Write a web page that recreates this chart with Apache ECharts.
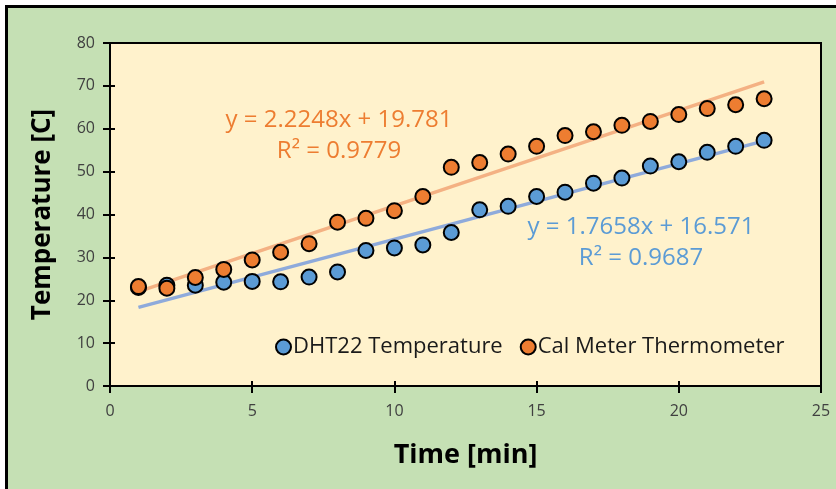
<!DOCTYPE html>
<html>
<head>
<meta charset="utf-8">
<script src="https://cdn.jsdelivr.net/npm/echarts@6/dist/echarts.min.js"></script>
<style>
html,body{margin:0;padding:0;width:836px;height:489px;background:#fff;overflow:hidden;}
#bg{position:absolute;left:5px;top:5px;right:0;bottom:0;background:#c5e0b4;border-top:3px solid #000;border-left:3px solid #000;}
#chart{position:absolute;left:0;top:0;width:836px;height:489px;}
</style>
</head>
<body>
<div id="bg"></div>
<div id="chart"></div>
<script>
// Time [min]
const timeMin = [1,2,3,4,5,6,7,8,9,10,11,12,13,14,15,16,17,18,19,20,21,22,23];
// DHT22 Temperature [C]
const dhtTemp = [23.0,23.5,23.5,24.2,24.4,24.3,25.4,26.6,31.6,32.2,32.9,35.8,41.1,41.9,44.2,45.2,47.3,48.5,51.3,52.3,54.5,55.9,57.3];
// Cal Meter Thermometer [C]
const calTemp = [23.2,22.8,25.3,27.2,29.4,31.2,33.2,38.2,39.1,40.9,44.2,51.0,52.1,54.1,55.9,58.4,59.3,60.8,61.7,63.3,64.7,65.6,67.0];
// linear trendline end points (x, y)
const dhtTrend = [[1,18.34],[23,57.18]];
const calTrend = [[1,22.01],[23,70.95]];
// labels
const dhtEq = ['y = 1.7658x + 16.571','R² = 0.9687'];
const calEq = ['y = 2.2248x + 19.781','R² = 0.9779'];
const xTicks = [0,5,10,15,20,25];
const yTicks = [0,10,20,30,40,50,60,70,80];

const FONT = '"Open Sans", "Liberation Sans", sans-serif';
const chart = echarts.init(document.getElementById('chart'));
const pair = (xs, ys) => xs.map((x,i)=>[x, ys[i]]);
const eqText = (txt, x, y, color) => ({type:'text', z:10, style:{text:txt, x:x, y:y, fill:color, font:'24px '+FONT, textAlign:'center', textVerticalAlign:'middle'}});

const xBase = {type:'value', min:xTicks[0], max:xTicks[xTicks.length-1], interval:5, splitLine:{show:false}};
const yBase = {type:'value', min:yTicks[0], max:yTicks[yTicks.length-1], interval:10, splitLine:{show:false}};

chart.setOption({
  backgroundColor: 'transparent',
  animation: false,
  textStyle: {fontFamily: FONT},
  grid: {left:110, right:15, top:43, bottom:103, show:true, backgroundColor:'#fff2cc', borderColor:'#000', borderWidth:2},
  legend: {
    data:['DHT22 Temperature','Cal Meter Thermometer'],
    left: 270, top: 331, itemGap: 17, itemWidth: 15, itemHeight: 15,
    icon:'circle',
    textStyle:{fontFamily:FONT, fontSize:22, color:'#1a1a1a', padding:[0,0,0,-3]}
  },
  xAxis: [Object.assign({}, xBase, {
    name:'Time [min]', nameLocation:'middle', nameGap:56,
    nameTextStyle:{fontFamily:FONT, fontSize:27, fontWeight:'bold', color:'#000'},
    axisLine:{show:true, lineStyle:{color:'#000', width:2}},
    axisTick:{show:true, length:7, lineStyle:{color:'#000', width:2}},
    axisLabel:{fontFamily:FONT, fontSize:16, color:'#404040', margin:17}
  }), Object.assign({}, xBase, {
    position:'bottom',
    axisLine:{show:false}, axisLabel:{show:false},
    axisTick:{show:true, inside:true, length:5, lineStyle:{color:'#000', width:2}}
  })],
  yAxis: [Object.assign({}, yBase, {
    name:'Temperature [C]', nameLocation:'middle', nameGap:54,
    nameTextStyle:{fontFamily:FONT, fontSize:26, fontWeight:'bold', color:'#000'},
    axisLine:{show:true, lineStyle:{color:'#000', width:2}},
    axisTick:{show:true, length:7, lineStyle:{color:'#000', width:2}},
    axisLabel:{fontFamily:FONT, fontSize:16, color:'#404040', margin:15}
  }), Object.assign({}, yBase, {
    position:'left',
    axisLine:{show:false}, axisLabel:{show:false},
    axisTick:{show:true, inside:true, length:5, lineStyle:{color:'#000', width:2}}
  })],
  series: [
    {name:'DHT22 trend', type:'line', data:dhtTrend, symbol:'none', silent:true,
     lineStyle:{color:'#8eaadb', width:3.5}, z:1},
    {name:'Cal trend', type:'line', data:calTrend, symbol:'none', silent:true,
     lineStyle:{color:'#f4b183', width:3.5}, z:1},
    {name:'DHT22 Temperature', type:'scatter', data:pair(timeMin, dhtTemp), symbol:'circle', symbolSize:15,
     itemStyle:{color:'#5b9bd5', borderColor:'#000', borderWidth:2, opacity:1}, z:3},
    {name:'Cal Meter Thermometer', type:'scatter', data:pair(timeMin, calTemp), symbol:'circle', symbolSize:15,
     itemStyle:{color:'#ed7d31', borderColor:'#000', borderWidth:2, opacity:1}, z:4}
  ],
  graphic: [
    eqText(calEq[0], 339, 120, '#ed7d31'),
    eqText(calEq[1], 339, 151, '#ed7d31'),
    eqText(dhtEq[0], 641, 227, '#5b9bd5'),
    eqText(dhtEq[1], 641, 258, '#5b9bd5')
  ]
});
</script>
</body>
</html>
